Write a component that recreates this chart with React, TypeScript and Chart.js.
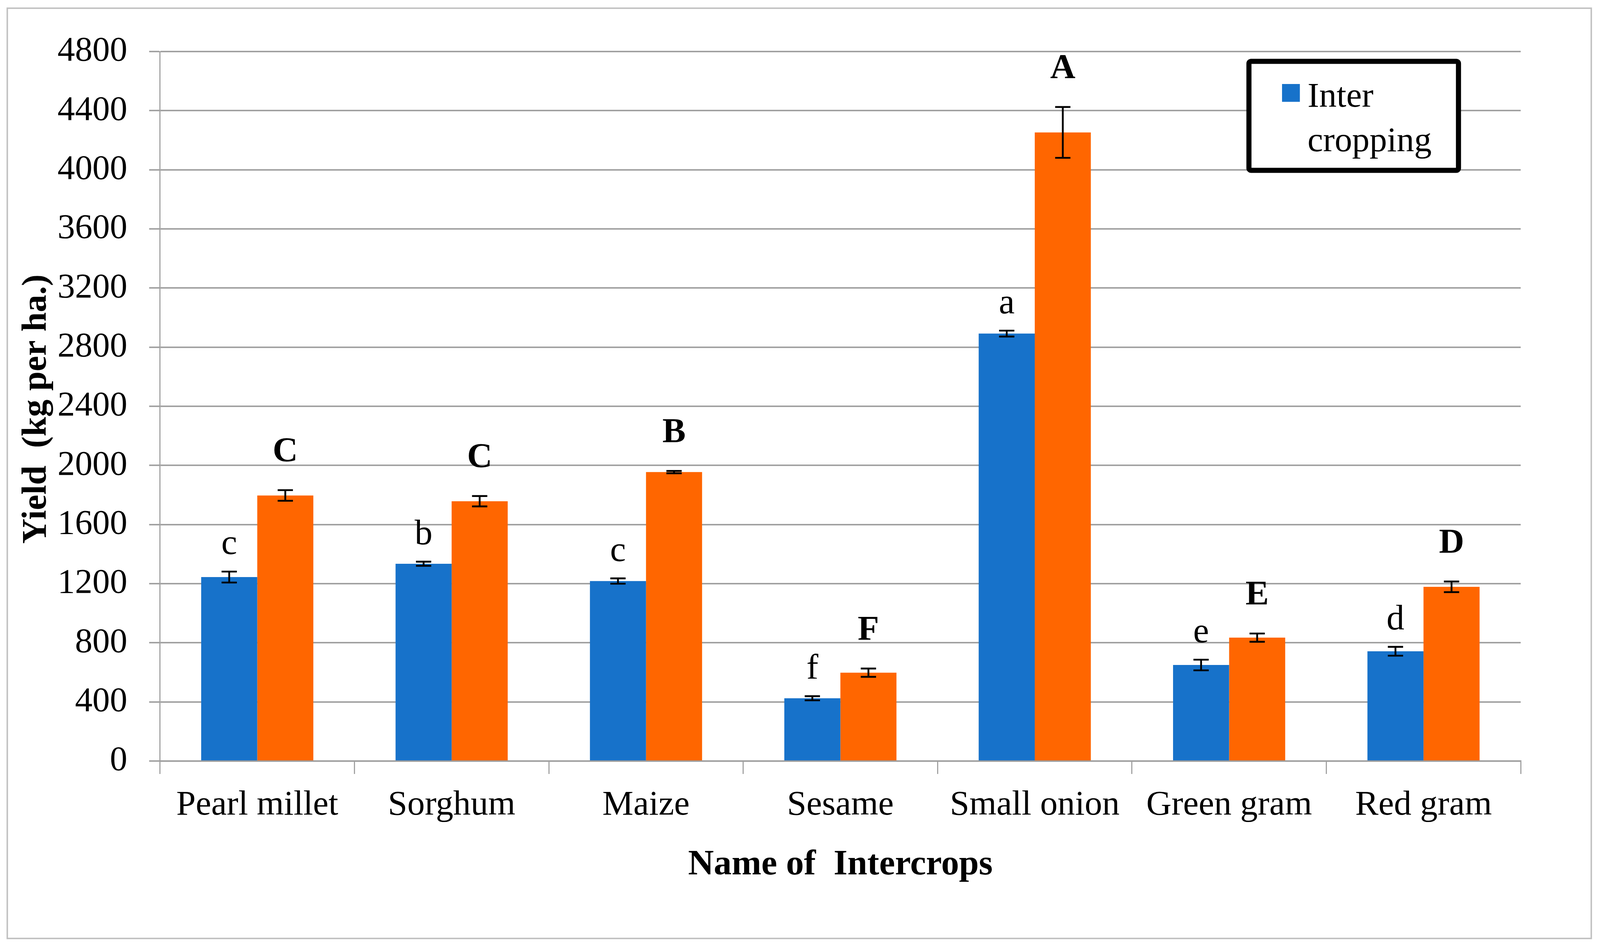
import React, { useEffect, useRef } from "react";
import { Chart, registerables } from "chart.js";

Chart.register(...registerables);

const categories = ["Pearl millet", "Sorghum", "Maize", "Sesame", "Small onion", "Green gram", "Red gram"];
const interValues = [1245, 1335, 1218, 425, 2892, 650, 743];
const interErrors = [37, 14, 18, 14, 20, 36, 30];
const interLetters = ["c", "b", "c", "f", "a", "e", "d"];
const soleValues = [1797, 1758, 1955, 598, 4253, 835, 1179];
const soleErrors = [36, 35, 8, 28, 172, 28, 36];
const soleLetters = ["C", "C", "B", "F", "A", "E", "D"];
const yMin = 0;
const yMax = 4800;
const yStep = 400;
const legendLabel = "Inter cropping";
const yTitle = "Yield  (kg per ha.)";
const xTitle = "Name of  Intercrops";

const FONT = '"Liberation Serif", "Times New Roman", serif';
const BLUE = "#1772CA";
const ORANGE = "#FF6600";
const GRID = "#9e9e9e";

const W0 = 4398;
const H0 = 2429;

const errors = [interErrors, soleErrors];
const letters = [interLetters, soleLetters];
const letterGap = [48, 80];

function makeDecor(sx: number, sy: number, s: number) {
  const X = (v: number) => v * sx;
  const Y = (v: number) => v * sy;
  const S = (v: number) => v * s;
  return {
    id: "decor",
    beforeDraw(chart: any) {
      const ctx = chart.ctx;
      ctx.save();
      ctx.fillStyle = "#ffffff";
      ctx.fillRect(0, 0, chart.width, chart.height);
      ctx.strokeStyle = "#c0c0c0";
      ctx.lineWidth = S(4);
      ctx.strokeRect(X(20), Y(21), X(4354), Y(2381));
      ctx.restore();
    },
    afterDatasetsDraw(chart: any) {
      const ctx = chart.ctx;
      const y = chart.scales.y;
      ctx.save();
      chart.data.datasets.forEach((ds: any, di: number) => {
        const meta = chart.getDatasetMeta(di);
        meta.data.forEach((bar: any, i: number) => {
          const v = ds.data[i];
          const e = errors[di][i];
          const top = y.getPixelForValue(v + e);
          const bot = y.getPixelForValue(v - e);
          const hw = S(21);
          ctx.strokeStyle = "#000";
          ctx.lineWidth = S(5);
          ctx.beginPath();
          ctx.moveTo(bar.x, top);
          ctx.lineTo(bar.x, bot);
          ctx.moveTo(bar.x - hw, top);
          ctx.lineTo(bar.x + hw, top);
          ctx.moveTo(bar.x - hw, bot);
          ctx.lineTo(bar.x + hw, bot);
          ctx.stroke();
          ctx.fillStyle = "#000";
          ctx.font = di === 0 ? `400 ${S(98)}px ${FONT}` : `700 ${S(96)}px ${FONT}`;
          ctx.textAlign = "center";
          ctx.textBaseline = "alphabetic";
          ctx.fillText(letters[di][i], bar.x, top - S(letterGap[di]));
        });
      });
      ctx.restore();
    },
    afterDraw(chart: any) {
      const ctx = chart.ctx;
      const area = chart.chartArea;
      ctx.save();
      ctx.fillStyle = "#000";
      ctx.font = `700 ${S(96)}px ${FONT}`;
      ctx.textAlign = "center";
      ctx.textBaseline = "alphabetic";
      ctx.save();
      ctx.translate(X(126), (area.top + area.bottom) / 2 + Y(7));
      ctx.rotate(-Math.PI / 2);
      ctx.fillText(yTitle, 0, 0);
      ctx.restore();
      ctx.font = `700 ${S(98)}px ${FONT}`;
      ctx.fillText(xTitle, (area.left + area.right) / 2, Y(2238));
      // Legend
      ctx.strokeStyle = "#000";
      ctx.lineWidth = S(14);
      ctx.beginPath();
      if ((ctx as any).roundRect) {
        (ctx as any).roundRect(X(3433), Y(157), X(576), Y(279), S(6));
      } else {
        ctx.rect(X(3433), Y(157), X(576), Y(279));
      }
      ctx.fillStyle = "#fff";
      ctx.fill();
      ctx.stroke();
      ctx.fillStyle = chart.data.datasets[0].backgroundColor;
      ctx.fillRect(X(3524), Y(215), S(49), S(49));
      ctx.fillStyle = "#000";
      ctx.font = `400 ${S(96)}px ${FONT}`;
      ctx.textAlign = "left";
      const words = (chart.data.datasets[0].label as string).split(" ");
      const lines: string[] = [];
      let cur = "";
      words.forEach((w) => {
        const test = cur ? cur + " " + w : w;
        if (cur && ctx.measureText(test).width > S(380)) {
          lines.push(cur);
          cur = w;
        } else cur = test;
      });
      if (cur) lines.push(cur);
      lines.forEach((l, k) => ctx.fillText(l, X(3594), Y(273 + k * 114)));
      ctx.restore();
    },
  };
}

export default function App() {
  const wrap = useRef<HTMLDivElement | null>(null);
  const ref = useRef<HTMLCanvasElement | null>(null);
  useEffect(() => {
    if (!ref.current || !wrap.current) return;
    const cw = wrap.current.clientWidth || window.innerWidth;
    const ch = wrap.current.clientHeight || window.innerHeight;
    const sx = cw / W0;
    const sy = ch / H0;
    const s = Math.min(sx, sy);
    const chart = new Chart(ref.current, {
      type: "bar",
      data: {
        labels: categories,
        datasets: [
          { label: legendLabel, data: interValues, backgroundColor: BLUE, borderWidth: 0, categoryPercentage: 0.577, barPercentage: 1 },
          { label: "Sole cropping", data: soleValues, backgroundColor: ORANGE, borderWidth: 0, categoryPercentage: 0.577, barPercentage: 1 },
        ],
      },
      options: {
        animation: false,
        responsive: true,
        maintainAspectRatio: false,
        layout: { padding: { top: 132 * sy, right: 218 * sx, left: 0, bottom: 0 } },
        plugins: { legend: { display: false }, tooltip: { enabled: false }, title: { display: false } },
        scales: {
          x: {
            grid: { display: true, drawOnChartArea: false, drawTicks: true, tickLength: 33 * sy, color: GRID, lineWidth: 3 * s, offset: true },
            border: { display: true, color: GRID, width: 4 * s },
            ticks: { color: "#000", font: { family: FONT, size: 96 * s }, padding: 27 * sy, maxRotation: 0, autoSkip: false },
            afterFit: (sc: any) => {
              sc.height = 481 * sy;
            },
          },
          y: {
            min: yMin,
            max: yMax,
            grid: { color: GRID, lineWidth: 4 * s, drawTicks: true, tickLength: 30 * sx },
            border: { display: true, color: GRID, width: 3 * s },
            ticks: { stepSize: yStep, color: "#000", font: { family: FONT, size: 96 * s }, padding: 60 * sx, callback: (v: any) => String(v) },
            afterFit: (sc: any) => {
              sc.width = 440 * sx;
            },
          },
        },
      },
      plugins: [makeDecor(sx, sy, s)],
    });
    return () => chart.destroy();
  }, []);
  return (
    <div ref={wrap} style={{ position: "fixed", left: 0, top: 0, width: "100vw", height: "100vh", background: "#fff" }}>
      <canvas ref={ref} />
    </div>
  );
}
